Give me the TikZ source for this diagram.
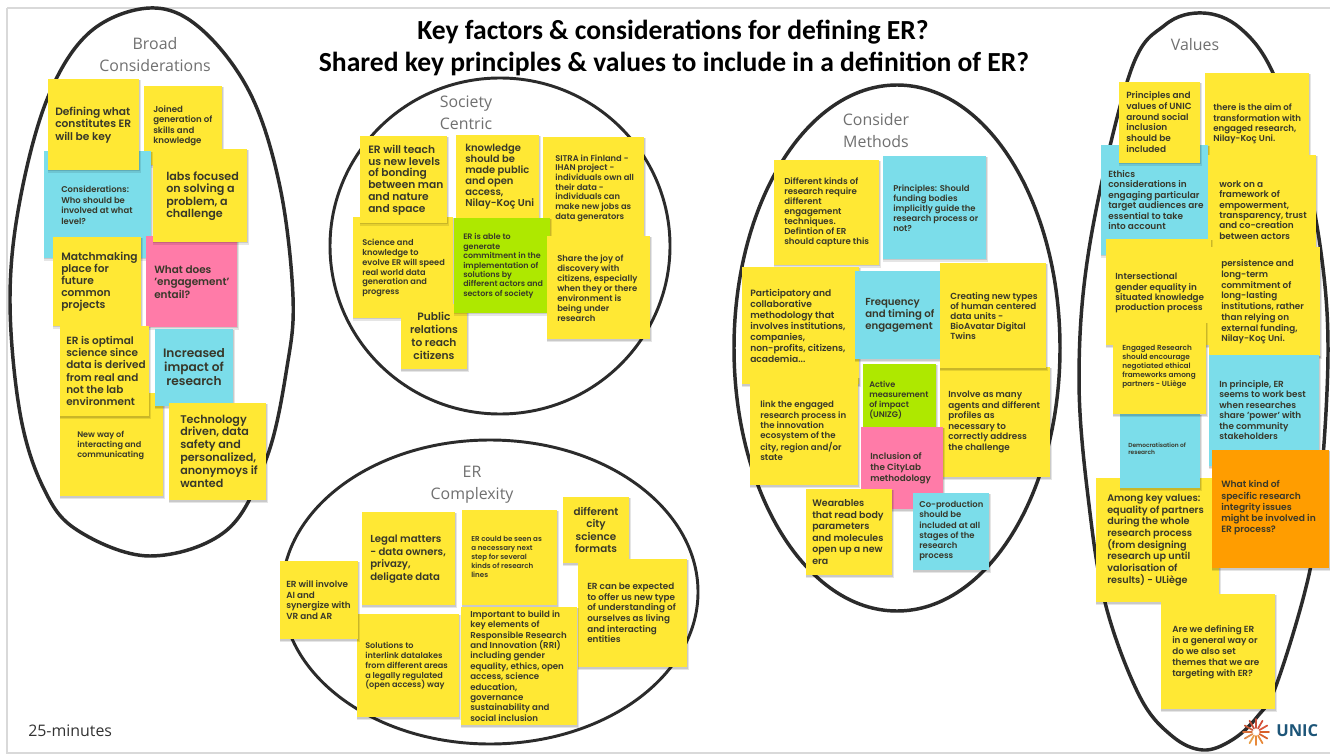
\documentclass[tikz,border=0pt]{standalone}
\usepackage{fontspec}
\setmainfont{Poppins}[UprightFont=* SemiBold]
\newfontfamily\headfont{Open Sans}
\newfontfamily\titlefont{Carlito}[UprightFont=* Bold]
\usetikzlibrary{calc}
\definecolor{ny}{HTML}{FFE834}
\definecolor{nb}{HTML}{7BDDEA}
\definecolor{np}{HTML}{FF7BA8}
\definecolor{ng}{HTML}{AEE800}
\definecolor{no}{HTML}{FF9D00}
\definecolor{ink}{HTML}{38382A}
\definecolor{ring}{HTML}{2B2B2B}
\definecolor{headc}{HTML}{707070}
\makeatletter
\let\orig@fontsize\fontsize
\newcommand\pxfont[2]{\pgfmathsetmacro\fsA{#1*0.75}\pgfmathsetmacro\fsB{#2*0.75}\orig@fontsize{\fsA pt}{\fsB pt}\selectfont}
\newcommand\notefont[2]{\pgfmathsetmacro\fsA{#1*0.75*1.015}\pgfmathsetmacro\fsB{#2*0.75}\orig@fontsize{\fsA pt}{\fsB pt}\selectfont}
\makeatother
\newcommand\sticky[8]{%
  \fill[black,opacity=.10] ($(#2)+(0,1)$) rectangle ($(#3)+(1.5,3)$);
  \fill[black,opacity=.12] ($(#2)+(0,1)$) rectangle ($(#3)+(.7,1.5)$);
  \fill[#4] (#2) rectangle (#3);
  \node[notetext,anchor=west,font={\notefont{#5}{#6}}] (#1) at (#7) {#8};}
\newcommand\stickyc[8]{%
  \fill[black,opacity=.10] ($(#2)+(0,1)$) rectangle ($(#3)+(1.5,3)$);
  \fill[black,opacity=.12] ($(#2)+(0,1)$) rectangle ($(#3)+(.7,1.5)$);
  \fill[#4] (#2) rectangle (#3);
  \node[notetextc,font={\notefont{#5}{#6}}] (#1) at (#7) {#8};}
\tikzset{
  notetext/.style={inner sep=0pt,align=left,text=ink},
  notetextc/.style={inner sep=0pt,align=center,text=ink},
  headtext/.style={inner sep=0pt,align=center,text=headc,font=\headfont\pxfont{15.9}{22}},
  titletext/.style={inner sep=0pt,text=black,font=\titlefont\pxfont{27.6}{32}},
  ringline/.style={draw=ring,line width=2.6pt},
}
\begin{document}
\begin{tikzpicture}[x=0.75pt,y=-0.75pt]
\useasboundingbox (0,0) rectangle (1330,755);
\fill[white] (0,0) rectangle (1330,755);
\draw[black!15,line width=0.8pt] (7,8) -- (1330,8) (7,8) -- (7,753) -- (1330,753);
% rings
\draw[ringline] plot[smooth cycle,tension=0.6] coordinates {(150,8) (200,28) (250,93) (280,187) (293,297) (287,367) (267,457) (227,530) (150,556) (77,530) (43,487) (20,413) (10,300) (20,200) (48,97) (90,32)};
\draw[ringline,line width=2.2pt] (500,246) ellipse [x radius=170,y radius=168];
\draw[ringline,line width=2.2pt] (490,592) ellipse [x radius=208,y radius=152];
\draw[ringline] (897,348) ellipse [x radius=163,y radius=263];
\draw[ringline] plot[smooth cycle,tension=0.6] coordinates {(1203,13) (1240,28) (1273,73) (1305,170) (1322,260) (1328,350) (1322,470) (1310,570) (1277,683) (1257,717) (1232,740) (1203,750) (1172,736) (1140,697) (1107,610) (1090,513) (1079,380) (1090,243) (1130,73) (1165,25)};
% titles
\node[titletext] (t1) at (673,32) {Key factors \& considerations for defining ER?};
\node[titletext] (t2) at (674,64) {Shared key principles \& values to include in a definition of ER?};
\node[headtext] (h1) at (155,54.5) {Broad\\Considerations};
\node[headtext] (h2) at (466,112.5) {Society\\Centric};
\node[headtext] (h3) at (472,484.5) {ER\\Complexity};
\node[headtext] (h4) at (876,130.5) {Consider\\Methods};
\node[headtext] (h5) at (1195,44.5) {Values};
\node[inner sep=0pt,anchor=west,text=black!80,font=\headfont\pxfont{15.9}{18}] (time) at (28,731) {25-minutes};
% Broad
\sticky{a2}{144,86}{222,165}{ny}{8.5}{10.5}{153,126}{Joined\\generation of\\skills and\\knowledge}
\sticky{a3}{44,151}{151,258}{nb}{8.3}{10.5}{61,205}{Considerations:\\Who should be\\involved at what\\level?}
\sticky{a1}{48,79}{139,170}{ny}{10.5}{12.5}{55,125}{Defining what\\constitutes ER\\will be key}
\sticky{a6}{146,236}{237,327}{np}{10.3}{12.5}{154,282}{What does\\'engagement'\\entail?}
\sticky{a4}{153,149}{247,242}{ny}{11}{12.5}{166,196}{labs focused\\on solving a\\problem, a\\challenge}
\sticky{a5}{53,237}{141,326}{ny}{10.5}{12}{61,282}{Matchmaking\\place for\\future\\common\\projects}
\sticky{a8}{60,393}{163,496}{ny}{8}{10}{77,445}{New way of\\interacting and\\communicating}
\sticky{a7}{60,326}{149,416}{ny}{10.3}{12.2}{66,371}{ER is optimal\\science since\\data is derived\\from real and\\not the lab\\environment}
\stickyc{a9}{155,329}{233,406}{nb}{12}{14}{194,367}{Increased\\impact of\\research}
\sticky{a10}{169,403}{266,500}{ny}{11}{12.8}{180,451}{Technology\\driven, data\\safety and\\personalized,\\anonymoys if\\wanted}
% Society
\sticky{b2}{456,135}{539,218}{ny}{9.8}{11}{465,177}{knowledge\\should be\\made public\\and open\\access,\\Nilay-Koç Uni}
\sticky{b3}{543,137}{644,238}{ny}{8.2}{9.7}{555,188}{SITRA in Finland -\\IHAN project -\\individuals own all\\their data -\\individuals can\\make new jobs as\\data generators}
\sticky{b4}{353,217}{453,318}{ny}{8.1}{9.8}{362,268}{Science and\\knowledge to\\evolve ER will speed\\real world data\\generation and\\progress}
\sticky{b1}{360,136}{447,223}{ny}{10.5}{11.8}{368,180}{ER will teach\\us new levels\\of bonding\\between man\\and nature\\and space}
\stickyc{b7}{401,304}{467,369}{ny}{10.5}{12.8}{434,336}{Public\\relations\\to reach\\citizens}
\sticky{b5}{454,218}{550,313}{ng}{7.8}{9.4}{463,266}{ER is able to\\generate\\commitment in the\\implementation of\\solutions by\\different actors and\\sectors of society}
\sticky{b6}{547,236}{650,339}{ny}{8.3}{10}{557,288}{Share the joy of\\discovery with\\citizens, especially\\when they or there\\environment is\\being under\\research}
% Complexity
\sticky{c2}{362,512}{455,605}{ny}{10}{12.7}{370,559}{Legal matters\\- data owners,\\privazy,\\deligate data}
\sticky{c3}{462,510}{557,605}{ny}{7}{9}{471,557}{ER could be seen as\\a necessary next\\step for several\\kinds of research\\lines}
\stickyc{c4}{563,497}{629,563}{ny}{10.2}{12.5}{596,530}{different\\city\\science\\formats}
\sticky{c6}{357,614}{459,717}{ny}{8}{9.9}{365,666}{Solutions to\\interlink datalakes\\from different areas\\a legally regulated\\(open access) way}
\sticky{c1}{280,561}{358,639}{ny}{8.7}{10.5}{286,600}{ER will involve\\AI and\\synergize with\\VR and AR}
\sticky{c5}{578,559}{687,667}{ny}{8.7}{10.7}{587,613}{ER can be expected\\to offer us new type\\of understanding of\\ourselves as living\\and interacting\\entities}
\sticky{c7}{461,607}{577,725}{ny}{8.5}{10.4}{470,666}{Important to build in\\key elements of\\Responsible Research\\and Innovation (RRI)\\including gender\\equality, ethics, open\\access, science\\education,\\governance\\sustainability and\\social inclusion}
% Consider
\sticky{d1}{774,160}{879,265}{ny}{8.5}{10}{784,212}{Different kinds of\\research require\\different\\engagement\\techniques.\\Defintion of ER\\should capture this}
\sticky{d2}{883,156}{986,259}{nb}{8.3}{9.9}{893,208}{Principles: Should\\funding bodies\\implicitly guide the\\research process or\\not?}
\sticky{d3}{742,267}{859,384}{ny}{9}{11}{750,326}{Participatory and\\collaborative\\methodology that\\involves institutions,\\companies,\\non-profits, citizens,\\academia...}
\sticky{d4}{855,271}{946,359}{nb}{10}{12}{865,315}{Frequency\\and timing of\\engagement}
\sticky{d7}{940,367}{1050,477}{ny}{8.7}{10.6}{948,422}{Involve as many\\agents and different\\profiles as\\necessary to\\correctly address\\the challenge}
\sticky{d5}{940,263}{1046,368}{ny}{8.7}{10}{950,316}{Creating new types\\of human centered\\data units -\\BioAvatar Digital\\Twins}
\sticky{d8}{750,377}{858,485}{ny}{8.5}{10.3}{760,431}{link the engaged\\research process in\\the innovation\\ecosystem of the\\city, region and/or\\state}
\sticky{d6}{863,364}{936,440}{ng}{8}{10.2}{869,400}{Active\\measurement\\of impact\\(UNIZG)}
\sticky{d9}{861,427}{943,509}{np}{8.7}{11}{870,468}{Inclusion of\\the CityLab\\methodology}
\sticky{d10}{806,489}{892,575}{ny}{9.3}{11.6}{812,532}{Wearables\\that read body\\parameters\\and molecules\\open up a new\\era}
\sticky{d11}{913,493}{989,570}{nb}{8.3}{10.3}{919,531}{Co-production\\should be\\included at all\\stages of the\\research\\process}
% Values
\sticky{e2}{1205,73}{1309,176}{ny}{8.5}{10.3}{1213,124}{there is the aim of\\transformation with\\engaged research,\\Nilay-Koç Uni.}
\sticky{e3}{1101,145}{1208,255}{nb}{8.8}{10.5}{1108,200}{Ethics\\considerations in\\engaging particular\\target audiences are\\essential to take\\into account}
\sticky{e1}{1119,82}{1200,163}{ny}{8.8}{10.8}{1126,122}{Principles and\\values of UNIC\\around social\\inclusion\\should be\\included}
\sticky{e4}{1208,155}{1316,260}{ny}{8.8}{10.4}{1219,210}{work on a\\framework of\\empowerment,\\transparency, trust\\and co-creation\\between actors}
\sticky{e5}{1106,239}{1211,345}{ny}{8.7}{10.2}{1115,293}{Intersectional\\gender equality in\\situated knowledge\\production process}
\sticky{e6}{1209,247}{1320,356}{ny}{8.7}{10.7}{1221,302}{persistence and\\long-term\\commitment of\\long-lasting\\institutions, rather\\than relying on\\external funding,\\Nilay-Koç Uni.}
\sticky{e8}{1209,355}{1319,466}{nb}{8.7}{10.5}{1219,410}{In principle, ER\\seems to work best\\when researches\\share 'power' with\\the community\\stakeholders}
\sticky{e10}{1096,478}{1219,602}{ny}{9.5}{11.7}{1107,540}{Among key values:\\equality of partners\\during the whole\\research process\\(from designing\\research up until\\valorisation of\\results) - ULiège}
\sticky{e9}{1120,414}{1200,488}{nb}{5.8}{7}{1128,449}{Democratisation of\\research}
\sticky{e7}{1113,322}{1206,414}{ny}{7.2}{8.9}{1122,367}{Engaged Research\\should encourage\\negotiated ethical\\frameworks among\\partners - ULiège}
\sticky{e11}{1212,450}{1329,568}{no}{9}{11.3}{1221,508}{What kind of\\specific research\\integrity issues\\might be involved in\\ER process?}
\sticky{e12}{1161,594}{1275,709}{ny}{8.7}{11}{1172,652}{Are we defining ER\\in a general way or\\do we also set\\themes that we are\\targeting with ER?}
% logo
\coordinate (lg) at (1256,732);
\foreach \a/\c in {0/D9602A,30/D9602A,60/E8893A,90/E8893A,120/E8A04A,150/E08A4A,180/D8703A,210/C85A3A,240/C9503A,270/C9503A,300/D2503A,330/D9553A}{
  \definecolor{sp}{HTML}{\c}
  \draw[sp,line width=1.3pt,line cap=round] ($(lg)+(\a:4)$) -- ($(lg)+(\a:13)$);
}
\node[inner sep=0pt,anchor=west,font=\headfont\bfseries\pxfont{16.5}{18}] (unic) at (1276,731) {\textcolor[HTML]{1D5578}{UNIC}};
\end{tikzpicture}
\end{document}
